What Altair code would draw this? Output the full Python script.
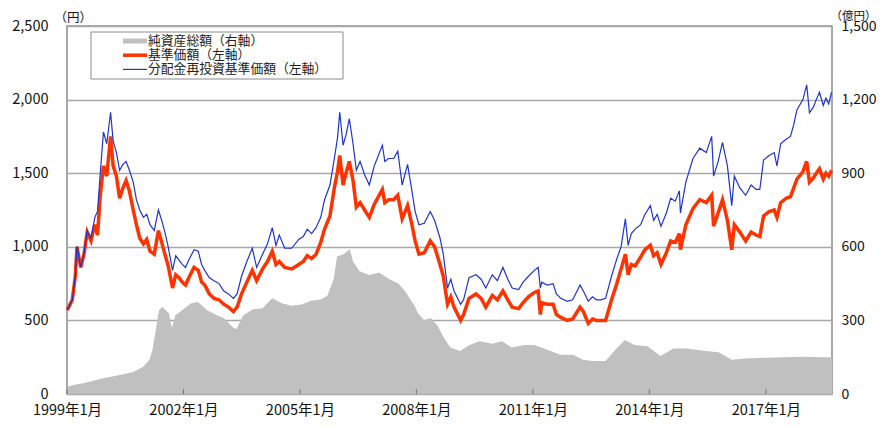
import altair as alt
import pandas as pd

FONT = "Noto Sans CJK JP"

# ---- data ----
price_dates = [
    "1999-01-04", "1999-02-20", "1999-03-20", "1999-04-05", "1999-05-10", "1999-06-10", "1999-07-10",
    "1999-08-15", "1999-09-20", "1999-10-15", "1999-11-10", "1999-12-10", "2000-01-10", "2000-02-15",
    "2000-03-10", "2000-04-10", "2000-05-10", "2000-06-10", "2000-07-10", "2000-08-10", "2000-09-15",
    "2000-10-15", "2000-11-15", "2000-12-20", "2001-01-20", "2001-02-20", "2001-04-01", "2001-05-10",
    "2001-06-10", "2001-07-10", "2001-08-10", "2001-09-20", "2001-10-20", "2001-11-20", "2001-12-20",
    "2002-01-20", "2002-02-20", "2002-04-10", "2002-05-20", "2002-06-20", "2002-07-20", "2002-09-01",
    "2002-10-15", "2002-12-01", "2003-01-15", "2003-03-01", "2003-04-15", "2003-05-20", "2003-07-01",
    "2003-08-20", "2003-10-10", "2003-11-20", "2004-01-15", "2004-03-01", "2004-04-15", "2004-05-20",
    "2004-06-20", "2004-08-10", "2004-10-15", "2004-12-20", "2005-02-01", "2005-03-10", "2005-04-20",
    "2005-06-01", "2005-07-15", "2005-08-20", "2005-10-10", "2005-11-20", "2005-12-20", "2006-01-10",
    "2006-02-10", "2006-03-10", "2006-04-10", "2006-05-15", "2006-06-15", "2006-07-20", "2006-09-01",
    "2006-10-15", "2006-12-01", "2007-02-15", "2007-03-10", "2007-04-15", "2007-06-01", "2007-07-10",
    "2007-08-20", "2007-10-10", "2007-11-20", "2007-12-20", "2008-01-25", "2008-03-15", "2008-05-10",
    "2008-06-20", "2008-08-10", "2008-09-10", "2008-10-20", "2008-11-20", "2008-12-20", "2009-02-20",
    "2009-03-20", "2009-05-10", "2009-07-15", "2009-09-01", "2009-10-15", "2009-12-15", "2010-02-01",
    "2010-03-25", "2010-05-10", "2010-06-20", "2010-08-20", "2010-10-01", "2010-11-20", "2011-01-15",
    "2011-02-20", "2011-03-12", "2011-03-25", "2011-05-15", "2011-07-10", "2011-08-10", "2011-09-20",
    "2011-11-20", "2012-01-10", "2012-03-20", "2012-04-20", "2012-06-05", "2012-07-15", "2012-08-20",
    "2012-10-01", "2012-11-15", "2013-01-10", "2013-03-01", "2013-04-10", "2013-05-20", "2013-06-15",
    "2013-07-15", "2013-08-20", "2013-10-10", "2013-11-20", "2014-01-10", "2014-02-10", "2014-03-15",
    "2014-04-20", "2014-06-10", "2014-07-20", "2014-09-01", "2014-10-10", "2014-10-20", "2014-12-10",
    "2015-02-15", "2015-04-20", "2015-06-20", "2015-08-10", "2015-08-28", "2015-10-10", "2015-11-20",
    "2016-01-05", "2016-02-15", "2016-03-10", "2016-05-01", "2016-06-25", "2016-08-15", "2016-10-01",
    "2016-11-05", "2016-12-10", "2017-02-01", "2017-03-20", "2017-04-15", "2017-05-20", "2017-07-10",
    "2017-08-20", "2017-09-20", "2017-10-20", "2017-12-15", "2018-01-20", "2018-02-15", "2018-03-25",
    "2018-04-20", "2018-05-20", "2018-06-25", "2018-07-20", "2018-08-15", "2018-09-10",
]
base_price = [
    570, 640, 800, 1000, 860, 950, 1100, 1040, 1150, 1080, 1350, 1550, 1480, 1750,
    1550, 1480, 1330, 1400, 1450, 1380, 1250, 1150, 1060, 1020, 1050, 970, 950, 1110,
    1030, 950, 870, 720, 810, 790, 760, 740, 790, 860, 840, 760, 740, 680,
    650, 640, 610, 590, 560, 590, 680, 760, 840, 770, 850, 900, 970, 880,
    900, 860, 850, 880, 900, 940, 920, 950, 1030, 1120, 1210, 1400, 1510, 1620,
    1420, 1500, 1580, 1450, 1270, 1300, 1250, 1200, 1290, 1390, 1300, 1320, 1320, 1350,
    1190, 1280, 1150, 1040, 950, 960, 1040, 1000, 880, 800, 610, 660, 590, 500,
    540, 650, 680, 650, 590, 670, 640, 700, 640, 590, 580, 620, 660, 690,
    700, 540, 620, 610, 610, 540, 520, 500, 510, 590, 560, 480, 510, 500,
    500, 500, 640, 750, 850, 950, 810, 880, 870, 930, 980, 1010, 940, 960,
    880, 960, 1040, 1030, 1090, 980, 1150, 1260, 1320, 1300, 1350, 1140, 1230, 1320,
    1180, 980, 1150, 1100, 1040, 1100, 1080, 1070, 1210, 1240, 1250, 1200, 1300, 1330,
    1340, 1400, 1460, 1510, 1580, 1440, 1470, 1500, 1530, 1460, 1500, 1480, 1520,
]
reinvest_price = [
    570, 640, 800, 1004, 860, 955, 1110, 1060, 1200, 1240, 1500, 1780, 1700, 1914,
    1720, 1640, 1520, 1560, 1580, 1520, 1440, 1320, 1250, 1200, 1220, 1150, 1110, 1250,
    1180, 1100, 1000, 840, 940, 910, 880, 860, 910, 980, 970, 880, 840, 790,
    770, 750, 700, 680, 650, 680, 800, 900, 990, 860, 950, 1020, 1130, 1010,
    1080, 990, 990, 1050, 1070, 1120, 1090, 1130, 1200, 1320, 1420, 1600, 1740, 1914,
    1690, 1760, 1870, 1700, 1520, 1580, 1490, 1420, 1550, 1690, 1580, 1600, 1600, 1650,
    1420, 1560, 1380, 1240, 1150, 1160, 1240, 1180, 1060, 950, 720, 780, 700, 610,
    640, 790, 810, 780, 720, 810, 770, 860, 780, 720, 710, 760, 800, 840,
    860, 720, 760, 740, 750, 680, 650, 630, 640, 740, 700, 630, 660, 640,
    640, 650, 800, 920, 1000, 1190, 1010, 1090, 1120, 1150, 1220, 1280, 1180, 1220,
    1140, 1230, 1330, 1310, 1380, 1230, 1440, 1600, 1670, 1640, 1750, 1480, 1580, 1710,
    1550, 1280, 1480, 1400, 1350, 1420, 1390, 1390, 1590, 1620, 1640, 1550, 1700, 1730,
    1750, 1830, 1930, 2000, 2100, 1910, 1950, 2000, 2050, 1960, 2010, 1970, 2050,
]

asset_dates = [
    "1999-01-04", "1999-03-15", "1999-06-15", "1999-09-15", "1999-12-15", "2000-03-15", "2000-06-15",
    "2000-09-15", "2000-12-15", "2001-02-15", "2001-03-15", "2001-04-15", "2001-05-15", "2001-06-15",
    "2001-08-15", "2001-09-15", "2001-10-15", "2001-12-15", "2002-03-15", "2002-05-15", "2002-08-15",
    "2002-11-15", "2003-01-15", "2003-04-15", "2003-05-15", "2003-07-15", "2003-10-15", "2004-01-15",
    "2004-04-15", "2004-07-15", "2004-10-15", "2005-01-15", "2005-04-15", "2005-07-15", "2005-09-15",
    "2005-11-15", "2005-12-15", "2006-02-15", "2006-04-15", "2006-05-15", "2006-07-15", "2006-10-15",
    "2007-01-15", "2007-04-15", "2007-07-15", "2007-09-15", "2007-12-15", "2008-01-15", "2008-03-15",
    "2008-05-15", "2008-07-15", "2008-09-15", "2008-11-15", "2009-02-15", "2009-05-15", "2009-08-15",
    "2009-12-15", "2010-03-15", "2010-06-15", "2010-10-15", "2011-01-15", "2011-05-15", "2011-09-15",
    "2012-01-15", "2012-04-15", "2012-07-15", "2012-11-15", "2013-02-15", "2013-05-15", "2013-08-15",
    "2013-12-15", "2014-04-15", "2014-08-15", "2014-12-15", "2015-06-15", "2015-10-15", "2016-02-15",
    "2016-06-15", "2017-01-15", "2017-06-15", "2018-01-15", "2018-06-15", "2018-09-15",
]
net_assets = [
    30, 38, 45, 55, 65, 72, 80,
    90, 110, 140, 180, 260, 340, 355,
    330, 270, 320, 340, 370, 375, 340,
    320, 310, 270, 265, 320, 345, 350,
    390, 370, 360, 365, 380, 385, 400,
    470, 560, 570, 590, 540, 500, 485,
    495, 470, 450, 420, 360, 330, 300,
    310, 280, 230, 190, 175, 200, 215,
    205, 215, 190, 200, 200, 180, 160,
    160, 140, 135, 135, 180, 220, 200,
    195, 155, 185, 185, 175, 170, 140,
    145, 148, 150, 152, 150, 150,
]

tick_years = [1999, 2002, 2005, 2008, 2011, 2014, 2017]
left_ticks = [0, 500, 1000, 1500, 2000, 2500]
right_ticks = [0, 300, 600, 900, 1200, 1500]

legend_labels = ["純資産総額（右軸）", "基準価額（左軸）", "分配金再投資基準価額（左軸）"]
legend_colors = ["#c0c0c0", "#ff3300", "#1f35c8"]
legend_widths = [5, 3.5, 1.2]

# ---- tables ----
price_df = pd.DataFrame({"date": price_dates, "base": base_price, "reinvest": reinvest_price})
asset_df = pd.DataFrame({"date": asset_dates, "assets": net_assets})
tick_df = pd.DataFrame({"date": [f"{y}-01-01" for y in tick_years]})
one = pd.DataFrame({"k": [0]})

PLOT_H = 368

x_dom = [alt.DateTime(year=1999, month=1, date=1, utc=True),
         alt.DateTime(year=2018, month=9, date=15, utc=True)]
x_enc = alt.X(
    "date:T",
    scale=alt.Scale(domain=x_dom, nice=False),
    axis=alt.Axis(
        values=[alt.DateTime(year=y, month=1, date=1, utc=True) for y in tick_years],
        labelExpr="utcFormat(datum.value, '%Y') + '年1月'",
        title=None, grid=False, ticks=False, domain=False,
        labelFontSize=14.5, labelPadding=9.5, labelFont=FONT, labelColor="#111",
        labelOverlap=False, labelFlush=False, labelBound=False,
    ),
)

area = alt.Chart(asset_df).mark_area(color="#c0c0c0", interpolate="linear").encode(
    x=x_enc,
    y=alt.Y(
        "assets:Q",
        scale=alt.Scale(domain=[0, 1500], nice=False),
        axis=alt.Axis(
            orient="right", values=right_ticks, format=",d", grid=False, ticks=False, domain=False,
            labelFontSize=14, labelPadding=9, labelFont=FONT, labelColor="#111",
            title="（億円）", titleAngle=0, titleX=-2, titleY=-10, titleAlign="left",
            titleBaseline="middle", titleFontSize=11.5, titleFontWeight="normal",
            titleFont=FONT, titleColor="#111",
        ),
    ),
)

red = alt.Chart(price_df).mark_line(color=legend_colors[1], strokeWidth=3.5).encode(
    x=x_enc,
    y=alt.Y(
        "base:Q",
        scale=alt.Scale(domain=[0, 2500], nice=False),
        axis=alt.Axis(
            orient="left", values=left_ticks, format=",d", grid=True, gridColor="#a8a8a8",
            gridWidth=1.5, ticks=False, domain=False,
            labelFontSize=14.5, labelPadding=19, labelFont=FONT, labelColor="#111",
            title="（円）", titleAngle=0, titleX=-13, titleY=-9, titleAlign="left",
            titleBaseline="middle", titleFontSize=12.5, titleFontWeight="normal",
            titleFont=FONT, titleColor="#111",
        ),
    ),
)
blue = alt.Chart(price_df).mark_line(color=legend_colors[2], strokeWidth=1.2).encode(
    x=x_enc,
    y=alt.Y("reinvest:Q"),
)
lines = alt.layer(red, blue)

ticks = alt.Chart(tick_df).mark_rule(color="#777", strokeWidth=1).encode(
    x=alt.X("date:T"), y=alt.value(PLOT_H - 5), y2=alt.value(PLOT_H)
)

box = alt.Chart(one).mark_rect(fill="white", stroke="#8a8a8a", strokeWidth=1).encode(
    x=alt.value(24), x2=alt.value(276), y=alt.value(6), y2=alt.value(53)
)
legend_layers = [box]
for i, (lab, col, w) in enumerate(zip(legend_labels, legend_colors, legend_widths)):
    yy = 15 + 14.2 * i
    legend_layers.append(
        alt.Chart(one).mark_rule(color=col, strokeWidth=w).encode(
            x=alt.value(56), x2=alt.value(80), y=alt.value(yy)
        )
    )
    legend_layers.append(
        alt.Chart(one).mark_text(
            align="left", baseline="middle", fontSize=12.8, font=FONT, color="#222"
        ).encode(x=alt.value(81), y=alt.value(yy), text=alt.value(lab))
    )

chart = (
    alt.layer(area, lines, ticks, *legend_layers)
    .resolve_scale(y="independent")
    .properties(
        width=765, height=PLOT_H,
        autosize=alt.AutoSizeParams(type="none"),
        padding={"left": 59, "top": 18, "right": 47, "bottom": 25},
    )
    .configure(font=FONT)
    .configure_view(stroke="#8c8c8c", strokeWidth=1.5)
)

chart.save("out.html", embed_options={"renderer": "svg", "actions": False})
